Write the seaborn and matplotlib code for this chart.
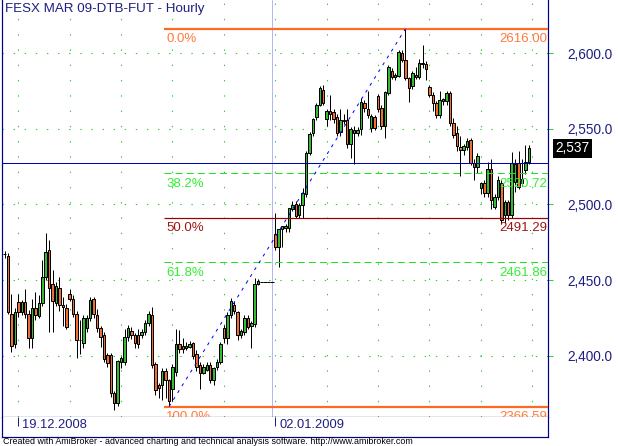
import numpy as np
import matplotlib
matplotlib.use("Agg")
import matplotlib.pyplot as plt
import matplotlib.transforms as mtransforms
import seaborn as sns

# ---------------- data ----------------
title = "FESX MAR 09-DTB-FUT - Hourly"
footer = ("Created with AmiBroker - advanced charting and technical analysis "
          "software. http://www.amibroker.com")

opens = [2467, 2466, 2427.6, 2408, 2435.5, 2429, 2435.5, 2427.6, 2411.8, 2431.6,
         2426.7, 2434.9, 2452.3, 2470, 2447.5, 2435.2, 2444.7, 2433.7, 2431.6, 2441,
         2437.5, 2427.9, 2410.7, 2408.4, 2418.3, 2425, 2437.6, 2427, 2418.3, 2413.9,
         2400.7, 2400.7, 2375.4, 2368.8, 2396.3, 2396.3, 2412.3, 2416.7, 2413.9, 2414,
         2413.9, 2416.1, 2421.6, 2427.1, 2394.8, 2380.9, 2380.9, 2390.3, 2384, 2378,
         2389.6, 2408, 2406.6, 2405, 2406, 2408.4, 2401, 2394, 2389, 2391,
         2394, 2384, 2392.5, 2396.3, 2418.3, 2411.7, 2427, 2433.7, 2428.9, 2414,
         2416, 2425, 2420, 2421, 2447.4, 2449.1, 2449.1, 2449.1, 2449.1, 2480.5,
         2472.2, 2483.7, 2484.2, 2484.2, 2497.2, 2500, 2493, 2499.5, 2506.9, 2534.2,
         2547.4, 2557.6, 2565.7, 2575.6, 2556.2, 2561.7, 2561, 2557.6, 2548, 2556,
         2555.8, 2539.7, 2549, 2547.5, 2549.7, 2567.2, 2562.8, 2550.3, 2557.6, 2571.6,
         2563.5, 2551.8, 2573.4, 2588.4, 2584.3, 2585, 2600, 2595.4, 2583.3, 2578.4,
         2585.5, 2584.4, 2593.2, 2592.5, 2577.8, 2572.3, 2566.8, 2559.1, 2568.3, 2568.3,
         2573.4, 2553.6, 2547.4, 2538.2, 2536, 2538.2, 2542.6, 2527.6, 2524.6, 2510.7,
         2514.2, 2507.4, 2523.2, 2498.5, 2505, 2514, 2493.1, 2501.9, 2493, 2515,
         2527.2, 2514, 2522.8, 2528.3]
highs = [2469, 2468, 2441, 2431.7, 2441, 2437, 2444, 2430.4, 2437.6, 2442.5,
         2440, 2463.6, 2481, 2476.6, 2457, 2449, 2452, 2439, 2434, 2444,
         2440, 2430, 2424, 2427, 2427, 2439, 2439, 2431, 2420, 2416,
         2402, 2402, 2377, 2397.5, 2400, 2418, 2420.4, 2419, 2415, 2418,
         2418, 2424, 2430, 2432.5, 2396, 2382, 2392, 2392, 2385, 2395,
         2418, 2417, 2412, 2409, 2410, 2409, 2404, 2396, 2395, 2396,
         2396, 2393, 2398, 2409, 2420.5, 2429, 2438, 2436, 2430, 2418,
         2427, 2427, 2423, 2451.7, 2450.5, 2449.1, 2449.1, 2449.1, 2449.1, 2494.6,
         2484, 2486, 2487, 2498, 2502, 2502.5, 2501, 2511, 2535, 2547.8,
         2557, 2567, 2578, 2579, 2563, 2572, 2563, 2560, 2563, 2560,
         2563, 2551, 2552, 2551, 2570, 2569, 2575, 2560, 2559, 2573,
         2566, 2575, 2592, 2590, 2587, 2602, 2602, 2616, 2584, 2588,
         2591, 2596.3, 2605.3, 2595, 2579, 2574, 2568, 2575, 2570, 2575,
         2575, 2557, 2552, 2545, 2540, 2544, 2544, 2530, 2534, 2515,
         2516, 2528, 2530, 2507, 2519, 2516, 2503, 2503, 2534.9, 2530,
         2535, 2530, 2539.3, 2539.3]
lows = [2465, 2428, 2402.6, 2405, 2426, 2427, 2425, 2405.3, 2405, 2424,
        2425, 2433, 2450, 2416, 2416, 2433, 2430, 2420, 2418, 2436,
        2426, 2398.5, 2401, 2405, 2416, 2423, 2425, 2416, 2406, 2396,
        2393, 2373, 2364.5, 2367, 2392, 2394, 2410, 2411, 2405, 2405,
        2412, 2414, 2420, 2392, 2374, 2372, 2371, 2372, 2366.6, 2370,
        2387, 2402, 2402, 2404, 2405, 2398, 2390, 2378, 2388, 2390,
        2382, 2381, 2391, 2395, 2408.4, 2408, 2425, 2428, 2410.6, 2412,
        2414, 2418, 2405, 2419, 2446.6, 2449.1, 2449.1, 2449.1, 2449.1, 2470,
        2459, 2472, 2482, 2482, 2496, 2491, 2491, 2491, 2505, 2533,
        2545, 2556, 2565, 2566, 2551.7, 2556, 2554, 2545, 2545, 2553,
        2537, 2530.7, 2527, 2545, 2546, 2561, 2557, 2548, 2549, 2561,
        2550, 2544, 2572, 2583, 2582, 2584, 2594, 2582, 2567.5, 2576,
        2583, 2583, 2590, 2582, 2571, 2562, 2557, 2557, 2566, 2566,
        2552, 2544, 2535, 2519, 2533, 2536, 2526, 2516, 2521, 2507,
        2505, 2505, 2497, 2497, 2503, 2487, 2488, 2490, 2491.3, 2508,
        2510, 2512, 2520, 2527]
closes = [2467, 2429.3, 2406.6, 2429.3, 2429.3, 2435.5, 2427.6, 2411.8, 2431.6, 2427.2,
          2434.9, 2452.3, 2468.5, 2444.7, 2436.5, 2446, 2433.7, 2432.5, 2419.4, 2437.5,
          2427.9, 2410.4, 2410.4, 2425, 2425, 2437, 2427.5, 2418.3, 2412.8, 2398,
          2395.6, 2375.4, 2368.8, 2396.7, 2398.5, 2412.3, 2418.3, 2413.9, 2408.4, 2408,
          2416, 2421.6, 2427.5, 2394.1, 2377.5, 2378.7, 2390.3, 2384.2, 2370, 2393,
          2408, 2404.4, 2404.4, 2406.6, 2408, 2400, 2393, 2389, 2393, 2394,
          2384, 2392, 2396.3, 2407.8, 2411.7, 2427, 2436, 2429.7, 2414, 2416.5,
          2425, 2419.4, 2421.6, 2447.4, 2449.5, 2449.1, 2449.1, 2449.1, 2449.1, 2472.2,
          2483.7, 2485.5, 2485.7, 2497.5, 2499.5, 2492.6, 2499.5, 2507.4, 2533.8, 2546.5,
          2556.2, 2565.7, 2576.7, 2567.2, 2561.7, 2560, 2556.2, 2547.4, 2556, 2555,
          2539.7, 2549.7, 2547, 2549.5, 2567.9, 2563.5, 2559, 2558.4, 2550.3, 2562.8,
          2551.8, 2574.5, 2591, 2584.3, 2585.5, 2600.5, 2595.4, 2583.3, 2577.1, 2586.6,
          2584.4, 2593.2, 2592.5, 2589.4, 2572.3, 2566.8, 2559.1, 2569, 2569.5, 2573.4,
          2553.6, 2545.9, 2538.6, 2536, 2538.6, 2542.1, 2527.6, 2525, 2532, 2514,
          2507.6, 2523.2, 2503, 2505.1, 2516.2, 2489.8, 2501.9, 2493.1, 2527.2, 2527,
          2511.8, 2517, 2528.3, 2537]

fib_pcts = ["0.0%", "38.2%", "50.0%", "61.8%", "100.0%"]
fib_levels = [2616.00, 2520.72, 2491.29, 2461.86, 2366.59]
fib_low_bar = 48
fib_high_bar = 117
hline_level = 2527.5
day_sep_bar = 78
date_bars = [4, 79]
date_labels = ["19.12.2008", "02.01.2009"]
grid_bars = list(range(4, 158, 15))
y_ticks = [2400, 2450, 2500, 2550, 2600]

# ---------------- style ----------------
sns.set_theme(style="white")
plt.rcParams["font.family"] = ["Liberation Sans", "DejaVu Sans"]
plt.rcParams["lines.scale_dashes"] = False

W, H = 618, 446
PX = 72 / 100.0  # points per pixel
NAVY = "#000088"
TXT_NAVY = "#1E1E82"
GREEN_GRID = "#33CC33"
UP = "#33BB33"
DOWN = "#F06E32"
FIB_COL = ["#FF6A22", "#22E022", "#990000", "#22E022", "#FF6A22"]
FIB_TXT = ["#FF7A3A", "#33EE33", "#A01515", "#33EE33", "#FF7A3A"]

fig = plt.figure(figsize=(W / 100, H / 100), dpi=100)
fig.patch.set_facecolor("white")
ax = fig.add_axes([2 / W, (H - 417) / H, 546 / W, 417 / H])
axd = fig.add_axes([2 / W, (H - 437) / H, 546 / W, 20 / H])

o = np.array(opens); h = np.array(highs); l = np.array(lows); c = np.array(closes)
idx = np.arange(len(o))
xlim = (-0.76, 158.6)
ylim = (2359.7, 2635.0)

for a in (ax, axd):
    a.set_facecolor("white")
    a.set_xlim(*xlim)
    a.set_xticks([])
    for s in ("left", "right", "bottom"):
        a.spines[s].set_color(NAVY)
        a.spines[s].set_linewidth(1.2 * PX)
        a.spines[s].set_visible(True)
    a.spines["top"].set_visible(False)
ax.set_ylim(*ylim)
axd.set_ylim(0, 1)
axd.set_yticks([])

# grid
for gb in grid_bars:
    ax.axvline(gb, color=GREEN_GRID, lw=1.1 * PX, ls=(0, (1.0, 10.0)), zorder=0)
for yt in y_ticks:
    ax.axhline(yt, color=GREEN_GRID, lw=1.1 * PX, ls=(0, (1.0, 7.0)), zorder=0)

# day separator
ax.axvline(day_sep_bar, color="#B4B4FF", lw=1 * PX, zorder=0.5)

# candles
flat = h == l
nf = ~flat
up = c >= o
ax.vlines(idx[nf], l[nf], h[nf], color="black", lw=1 * PX, zorder=2)
bottoms = np.minimum(o, c)
heights = np.maximum(np.abs(c - o), 0.35)
colors = np.where(up, UP, DOWN)
ax.bar(idx[nf], heights[nf], bottom=bottoms[nf], width=0.72, color=colors[nf],
       edgecolor="black", linewidth=1 * PX, zorder=3)
ax.hlines(c[flat], idx[flat] - 0.5, idx[flat] + 0.5, color="black", lw=1 * PX, zorder=3)

# horizontal study line
ax.axhline(hline_level, color="#0000AA", lw=1 * PX, zorder=4)

# fib retracement
fib_start = fib_low_bar - 1.5
trans = mtransforms.blended_transform_factory(ax.transAxes, ax.transData)
for pct, lev, col, tcol in zip(fib_pcts, fib_levels, FIB_COL, FIB_TXT):
    if pct in ("38.2%", "61.8%"):
        ax.hlines(lev, fib_start, xlim[1], color=col, lw=1 * PX, ls=(0, (5.0, 3.0)), zorder=4)
    elif pct == "50.0%":
        ax.hlines(lev, fib_start, xlim[1], color=col, lw=1.2 * PX, zorder=4)
    else:
        ax.hlines(lev, fib_start, xlim[1], color=col, lw=2.2 * PX, zorder=4)
    t1 = ax.annotate(pct, xy=(fib_start, lev), xytext=(1.5, -3.2), textcoords="offset points",
                     ha="left", va="top", color=tcol, fontsize=9.5, zorder=5,
                     annotation_clip=False)
    t2 = ax.annotate(f"{lev:.2f}", xy=(1, lev), xycoords=trans, xytext=(-0.8, -3.2),
                     textcoords="offset points", ha="right", va="top", color=tcol,
                     fontsize=9.5, zorder=5, annotation_clip=False)
    for t in (t1, t2):
        t.set_clip_on(True)
        t.set_clip_path(ax.patch)

# trend line of the fib tool (seaborn)
sns.lineplot(x=[fib_low_bar, fib_high_bar], y=[fib_levels[-1], fib_levels[0]], ax=ax,
             color="#0000FF", lw=1 * PX, linestyle=(0, (2.2, 3.6)), zorder=4)

# right axis
ax.yaxis.tick_right()
ax.set_yticks(y_ticks)
ax.set_yticklabels([f"{v:,.1f}" for v in y_ticks])
ax.tick_params(axis="y", which="major", direction="out", length=5 * PX, width=1 * PX,
               color=GREEN_GRID, labelcolor=TXT_NAVY, labelsize=9.8, pad=10.5,
               left=False, right=True, labelleft=False, labelright=True)
ax.set_xlabel(""); ax.set_ylabel("")

# last price label
ax.annotate(f"{closes[-1]:,.0f}", xy=(1, closes[-1]), xycoords=trans, xytext=(5.2, 0),
            textcoords="offset points", ha="left", va="center", color="white",
            fontsize=9.8, annotation_clip=False,
            bbox=dict(boxstyle="square,pad=0.18", fc="black", ec="none"))

# title
ax.annotate(title, xy=(0, 1), xycoords="axes fraction", xytext=(2.5, -2.2),
            textcoords="offset points", ha="left", va="top", color=TXT_NAVY, fontsize=9.6)

# date axis
for db, dl in zip(date_bars, date_labels):
    axd.vlines(db, 0.55, 1.0, color=TXT_NAVY, lw=1 * PX)
    axd.annotate(dl, xy=(db, 0.62), xytext=(3.0, 0), textcoords="offset points",
                 ha="left", va="center", color=TXT_NAVY, fontsize=9.3)

# footer
fig.text(3 / W, (H - 441.5) / H, footer, ha="left", va="center", color="black", fontsize=6.4)

fig.savefig("out.png", dpi=100)
